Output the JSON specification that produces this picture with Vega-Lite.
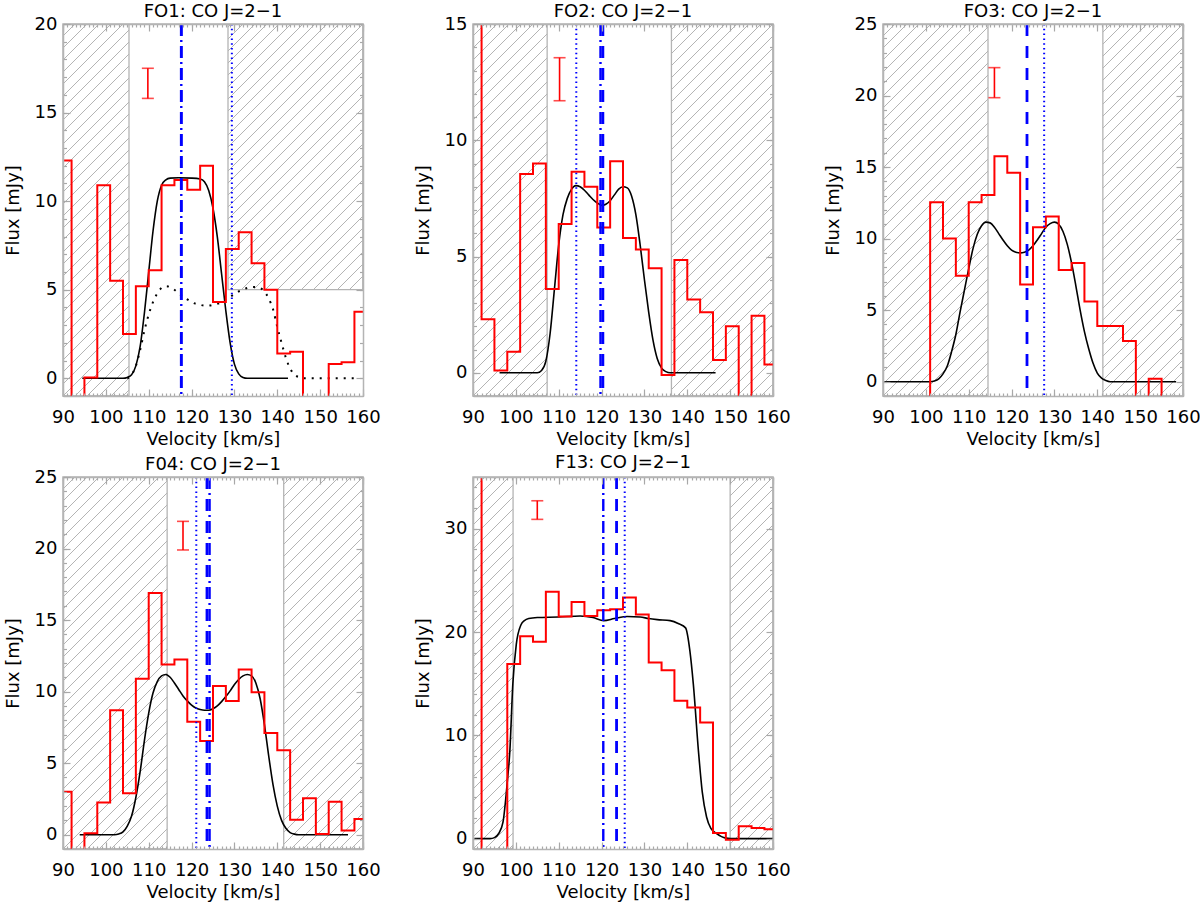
{
"$schema": "https://vega.github.io/schema/vega-lite/v6.json",
"padding": {"left": 3, "top": 2, "right": 5, "bottom": 5},
"background": "white",
"config": {
  "font": "DejaVu Sans",
  "view": {"stroke": "#b4b4b4", "strokeWidth": 1.5},
  "title": {"font": "DejaVu Sans", "fontSize": 18, "fontWeight": "normal", "color": "black", "offset": -6, "anchor": "middle", "frame": "group"},
  "axis": {"domainColor": "#b4b4b4", "domainWidth": 1.5, "tickColor": "#a8a8a8", "tickWidth": 1.2, "labelFont": "DejaVu Sans", "labelFontSize": 18, "labelColor": "black", "titleFont": "DejaVu Sans", "titleFontSize": 18, "titleFontWeight": "normal", "titleColor": "black", "labelFlush": false, "labelOverlap": false, "grid": false},
  "axisX": {"titleY": 43, "titleBaseline": "middle"},
  "axisY": {"titleX": -50, "titleBaseline": "middle"}
},
"datasets": {
  "hatch": [
    {"a":3.2,"b":90.0},{"a":6.0,"b":92.8},{"a":8.8,"b":95.6},{"a":11.6,"b":98.4},{"a":14.4,"b":101.2},{"a":17.2,"b":104.0},{"a":20.0,"b":106.8},{"a":22.8,"b":109.6},{"a":25.6,"b":112.4},{"a":28.4,"b":115.2},
    {"a":31.2,"b":118.0},{"a":34.0,"b":120.8},{"a":36.8,"b":123.6},{"a":39.6,"b":126.4},{"a":42.4,"b":129.2},{"a":45.2,"b":132.0},{"a":48.0,"b":134.8},{"a":50.8,"b":137.6},{"a":53.6,"b":140.4},{"a":56.4,"b":143.2},
    {"a":59.2,"b":146.0},{"a":62.0,"b":148.8},{"a":64.8,"b":151.6},{"a":67.6,"b":154.4},{"a":70.4,"b":157.2},{"a":73.2,"b":160.0},{"a":76.0,"b":162.8},{"a":78.8,"b":165.6},{"a":81.6,"b":168.4},{"a":84.4,"b":171.2},
    {"a":87.2,"b":174.0},{"a":90.0,"b":176.8},{"a":92.8,"b":179.6},{"a":95.6,"b":182.4},{"a":98.4,"b":185.2},{"a":101.2,"b":188.0},{"a":104.0,"b":190.8},{"a":106.8,"b":193.6},{"a":109.6,"b":196.4},{"a":112.4,"b":199.2},
    {"a":115.2,"b":202.0},{"a":118.0,"b":204.8},{"a":120.8,"b":207.6},{"a":123.6,"b":210.4},{"a":126.4,"b":213.2},{"a":129.2,"b":216.0},{"a":132.0,"b":218.8},{"a":134.8,"b":221.6},{"a":137.6,"b":224.4},{"a":140.4,"b":227.2},
    {"a":143.2,"b":230.0},{"a":146.0,"b":232.8},{"a":148.8,"b":235.6},{"a":151.6,"b":238.4},{"a":154.4,"b":241.2},{"a":157.2,"b":244.0},{"a":160.0,"b":246.8}
  ],
  "mask": [
    {"p":"F01","x1":105.4,"x2":128.5,"y1":-1,"y2":20},
    {"p":"F01","x1":128.5,"x2":160,"y1":-1,"y2":5},
    {"p":"F02","x1":107.3,"x2":136.3,"y1":-1,"y2":15},
    {"p":"F03","x1":114.5,"x2":141.3,"y1":-1,"y2":25},
    {"p":"F04","x1":114.3,"x2":141.5,"y1":-1,"y2":25},
    {"p":"F13","x1":99.35,"x2":150,"y1":-1,"y2":35}
  ],
  "hreg": [
    {"p":"F01","x1":90,"x2":105.4,"y1":-1,"y2":20},
    {"p":"F01","x1":128.5,"x2":160,"y1":5,"y2":20},
    {"p":"F02","x1":90,"x2":107.3,"y1":-1,"y2":15},
    {"p":"F02","x1":136.3,"x2":160,"y1":-1,"y2":15},
    {"p":"F03","x1":90,"x2":114.5,"y1":-1,"y2":25},
    {"p":"F03","x1":141.3,"x2":160,"y1":-1,"y2":25},
    {"p":"F04","x1":90,"x2":114.3,"y1":-1,"y2":25},
    {"p":"F04","x1":141.5,"x2":160,"y1":-1,"y2":25},
    {"p":"F13","x1":90,"x2":99.35,"y1":-1,"y2":35},
    {"p":"F13","x1":150,"x2":160,"y1":-1,"y2":35}
  ],
  "steps": [
    {"p":"F01","v":89,"f":12.3},{"p":"F01","v":92,"f":-3},{"p":"F01","v":95,"f":0.05},{"p":"F01","v":98,"f":10.9},{"p":"F01","v":101,"f":5.5},{"p":"F01","v":104,"f":2.5},{"p":"F01","v":107,"f":5.2},{"p":"F01","v":110,"f":6.1},{"p":"F01","v":113,"f":10.9},{"p":"F01","v":116,"f":11.2},{"p":"F01","v":119,"f":10.65},{"p":"F01","v":122,"f":12.0},{"p":"F01","v":125,"f":4.3},{"p":"F01","v":128,"f":7.3},{"p":"F01","v":131,"f":8.25},{"p":"F01","v":134,"f":6.5},{"p":"F01","v":137,"f":5.0},{"p":"F01","v":140,"f":1.4},{"p":"F01","v":143,"f":1.5},{"p":"F01","v":146,"f":-3},{"p":"F01","v":149,"f":-3},{"p":"F01","v":152,"f":0.8},{"p":"F01","v":155,"f":0.9},{"p":"F01","v":158,"f":3.75},{"p":"F01","v":161,"f":3.75},
    {"p":"F02","v":89,"f":17},{"p":"F02","v":92,"f":2.3},{"p":"F02","v":95,"f":0.1},{"p":"F02","v":98,"f":0.9},{"p":"F02","v":101,"f":8.55},{"p":"F02","v":104,"f":9.0},{"p":"F02","v":107,"f":3.6},{"p":"F02","v":110,"f":6.4},{"p":"F02","v":113,"f":8.65},{"p":"F02","v":116,"f":8.0},{"p":"F02","v":119,"f":6.25},{"p":"F02","v":122,"f":9.1},{"p":"F02","v":125,"f":5.8},{"p":"F02","v":128,"f":5.3},{"p":"F02","v":131,"f":4.5},{"p":"F02","v":134,"f":-0.1},{"p":"F02","v":137,"f":4.85},{"p":"F02","v":140,"f":3.15},{"p":"F02","v":143,"f":2.6},{"p":"F02","v":146,"f":0.55},{"p":"F02","v":149,"f":2.0},{"p":"F02","v":152,"f":-3},{"p":"F02","v":155,"f":2.45},{"p":"F02","v":158,"f":0.35},{"p":"F02","v":161,"f":0.35},
    {"p":"F03","v":98,"f":-3},{"p":"F03","v":101,"f":12.55},{"p":"F03","v":104,"f":10.0},{"p":"F03","v":107,"f":7.4},{"p":"F03","v":110,"f":12.55},{"p":"F03","v":113,"f":13.05},{"p":"F03","v":116,"f":15.75},{"p":"F03","v":119,"f":14.6},{"p":"F03","v":122,"f":6.8},{"p":"F03","v":125,"f":10.8},{"p":"F03","v":128,"f":11.55},{"p":"F03","v":131,"f":7.8},{"p":"F03","v":134,"f":8.3},{"p":"F03","v":137,"f":5.6},{"p":"F03","v":140,"f":3.9},{"p":"F03","v":143,"f":3.9},{"p":"F03","v":146,"f":2.85},{"p":"F03","v":149,"f":-3},{"p":"F03","v":152,"f":0.2},{"p":"F03","v":155,"f":-3},{"p":"F03","v":158,"f":-3},
    {"p":"F04","v":89,"f":3.0},{"p":"F04","v":92,"f":-3},{"p":"F04","v":95,"f":0.1},{"p":"F04","v":98,"f":2.25},{"p":"F04","v":101,"f":8.7},{"p":"F04","v":104,"f":2.9},{"p":"F04","v":107,"f":10.9},{"p":"F04","v":110,"f":16.9},{"p":"F04","v":113,"f":11.9},{"p":"F04","v":116,"f":12.25},{"p":"F04","v":119,"f":7.9},{"p":"F04","v":122,"f":6.55},{"p":"F04","v":125,"f":10.4},{"p":"F04","v":128,"f":9.35},{"p":"F04","v":131,"f":11.55},{"p":"F04","v":134,"f":9.95},{"p":"F04","v":137,"f":7.1},{"p":"F04","v":140,"f":5.9},{"p":"F04","v":143,"f":1.05},{"p":"F04","v":146,"f":2.55},{"p":"F04","v":149,"f":0.05},{"p":"F04","v":152,"f":2.3},{"p":"F04","v":155,"f":0.3},{"p":"F04","v":158,"f":1.1},{"p":"F04","v":161,"f":1.1},
    {"p":"F13","v":89,"f":40},{"p":"F13","v":92,"f":-3},{"p":"F13","v":95,"f":-3},{"p":"F13","v":98,"f":16.9},{"p":"F13","v":101,"f":19.6},{"p":"F13","v":104,"f":19.05},{"p":"F13","v":107,"f":23.9},{"p":"F13","v":110,"f":21.5},{"p":"F13","v":113,"f":22.9},{"p":"F13","v":116,"f":21.55},{"p":"F13","v":119,"f":22.1},{"p":"F13","v":122,"f":22.2},{"p":"F13","v":125,"f":23.35},{"p":"F13","v":128,"f":21.7},{"p":"F13","v":131,"f":17.05},{"p":"F13","v":134,"f":16.3},{"p":"F13","v":137,"f":13.35},{"p":"F13","v":140,"f":12.7},{"p":"F13","v":143,"f":11.25},{"p":"F13","v":146,"f":0.55},{"p":"F13","v":149,"f":-0.1},{"p":"F13","v":152,"f":1.2},{"p":"F13","v":155,"f":1.03},{"p":"F13","v":158,"f":0.9},{"p":"F13","v":161,"f":0.9}
  ],
  "model": [
    {"p":"F01","c":"fit","v":94.5,"f":0},{"p":"F01","c":"fit","v":104,"f":0},{"p":"F01","c":"fit","v":105,"f":0.05},{"p":"F01","c":"fit","v":106,"f":0.2},{"p":"F01","c":"fit","v":107,"f":0.7},{"p":"F01","c":"fit","v":108,"f":1.8},{"p":"F01","c":"fit","v":109,"f":3.7},{"p":"F01","c":"fit","v":110,"f":6.0},{"p":"F01","c":"fit","v":111,"f":8.3},{"p":"F01","c":"fit","v":112,"f":10.0},{"p":"F01","c":"fit","v":113,"f":10.9},{"p":"F01","c":"fit","v":114,"f":11.2},{"p":"F01","c":"fit","v":115,"f":11.3},{"p":"F01","c":"fit","v":117,"f":11.32},{"p":"F01","c":"fit","v":120,"f":11.3},{"p":"F01","c":"fit","v":122,"f":11.25},{"p":"F01","c":"fit","v":123,"f":11.1},{"p":"F01","c":"fit","v":124,"f":10.6},{"p":"F01","c":"fit","v":125,"f":9.6},{"p":"F01","c":"fit","v":126,"f":8.0},{"p":"F01","c":"fit","v":127,"f":5.9},{"p":"F01","c":"fit","v":128,"f":3.8},{"p":"F01","c":"fit","v":129,"f":2.0},{"p":"F01","c":"fit","v":130,"f":0.8},{"p":"F01","c":"fit","v":131,"f":0.25},{"p":"F01","c":"fit","v":132,"f":0.05},{"p":"F01","c":"fit","v":133,"f":0},{"p":"F01","c":"fit","v":142.5,"f":0},
    {"p":"F01","c":"alt","v":105,"f":0},{"p":"F01","c":"alt","v":106,"f":0.2},{"p":"F01","c":"alt","v":107,"f":0.7},{"p":"F01","c":"alt","v":108,"f":1.6},{"p":"F01","c":"alt","v":109,"f":2.7},{"p":"F01","c":"alt","v":110,"f":3.6},{"p":"F01","c":"alt","v":111,"f":4.3},{"p":"F01","c":"alt","v":112,"f":4.8},{"p":"F01","c":"alt","v":113,"f":5.1},{"p":"F01","c":"alt","v":114,"f":5.2},{"p":"F01","c":"alt","v":115,"f":5.15},{"p":"F01","c":"alt","v":116,"f":5.0},{"p":"F01","c":"alt","v":117,"f":4.8},{"p":"F01","c":"alt","v":118,"f":4.6},{"p":"F01","c":"alt","v":119,"f":4.45},{"p":"F01","c":"alt","v":120,"f":4.3},{"p":"F01","c":"alt","v":121,"f":4.2},{"p":"F01","c":"alt","v":122,"f":4.15},{"p":"F01","c":"alt","v":123,"f":4.1},{"p":"F01","c":"alt","v":124,"f":4.1},{"p":"F01","c":"alt","v":125,"f":4.15},{"p":"F01","c":"alt","v":126,"f":4.2},{"p":"F01","c":"alt","v":127,"f":4.3},{"p":"F01","c":"alt","v":128,"f":4.45},{"p":"F01","c":"alt","v":129,"f":4.6},{"p":"F01","c":"alt","v":130,"f":4.75},{"p":"F01","c":"alt","v":131,"f":4.9},{"p":"F01","c":"alt","v":132,"f":5.0},{"p":"F01","c":"alt","v":133,"f":5.1},{"p":"F01","c":"alt","v":134,"f":5.15},{"p":"F01","c":"alt","v":135,"f":5.15},{"p":"F01","c":"alt","v":136,"f":5.1},{"p":"F01","c":"alt","v":137,"f":4.9},{"p":"F01","c":"alt","v":138,"f":4.5},{"p":"F01","c":"alt","v":139,"f":3.9},{"p":"F01","c":"alt","v":140,"f":2.9},{"p":"F01","c":"alt","v":141,"f":2.0},{"p":"F01","c":"alt","v":142,"f":1.16},{"p":"F01","c":"alt","v":143,"f":0.55},{"p":"F01","c":"alt","v":144,"f":0.2},{"p":"F01","c":"alt","v":145,"f":0.07},{"p":"F01","c":"alt","v":146,"f":0},{"p":"F01","c":"alt","v":158,"f":0},
    {"p":"F02","c":"fit","v":96.2,"f":0},{"p":"F02","c":"fit","v":105,"f":0},{"p":"F02","c":"fit","v":106,"f":0.1},{"p":"F02","c":"fit","v":107,"f":0.5},{"p":"F02","c":"fit","v":108,"f":1.7},{"p":"F02","c":"fit","v":109,"f":3.6},{"p":"F02","c":"fit","v":110,"f":5.5},{"p":"F02","c":"fit","v":111,"f":6.8},{"p":"F02","c":"fit","v":112,"f":7.5},{"p":"F02","c":"fit","v":113,"f":7.9},{"p":"F02","c":"fit","v":114,"f":8.05},{"p":"F02","c":"fit","v":115,"f":8.0},{"p":"F02","c":"fit","v":116,"f":7.85},{"p":"F02","c":"fit","v":117,"f":7.65},{"p":"F02","c":"fit","v":118,"f":7.45},{"p":"F02","c":"fit","v":119,"f":7.3},{"p":"F02","c":"fit","v":120,"f":7.2},{"p":"F02","c":"fit","v":121,"f":7.25},{"p":"F02","c":"fit","v":122,"f":7.4},{"p":"F02","c":"fit","v":123,"f":7.65},{"p":"F02","c":"fit","v":124,"f":7.9},{"p":"F02","c":"fit","v":125,"f":8.0},{"p":"F02","c":"fit","v":126,"f":7.95},{"p":"F02","c":"fit","v":127,"f":7.6},{"p":"F02","c":"fit","v":128,"f":6.8},{"p":"F02","c":"fit","v":129,"f":5.5},{"p":"F02","c":"fit","v":130,"f":4.0},{"p":"F02","c":"fit","v":131,"f":2.6},{"p":"F02","c":"fit","v":132,"f":1.4},{"p":"F02","c":"fit","v":133,"f":0.6},{"p":"F02","c":"fit","v":134,"f":0.2},{"p":"F02","c":"fit","v":135,"f":0.05},{"p":"F02","c":"fit","v":136,"f":0},{"p":"F02","c":"fit","v":146.6,"f":0},
    {"p":"F03","c":"fit","v":90.3,"f":0},{"p":"F03","c":"fit","v":101,"f":0},{"p":"F03","c":"fit","v":102,"f":0.05},{"p":"F03","c":"fit","v":103,"f":0.2},{"p":"F03","c":"fit","v":104,"f":0.55},{"p":"F03","c":"fit","v":105,"f":1.1},{"p":"F03","c":"fit","v":106,"f":2.1},{"p":"F03","c":"fit","v":107,"f":3.3},{"p":"F03","c":"fit","v":108,"f":4.9},{"p":"F03","c":"fit","v":109,"f":6.4},{"p":"F03","c":"fit","v":110,"f":7.9},{"p":"F03","c":"fit","v":111,"f":9.3},{"p":"F03","c":"fit","v":112,"f":10.3},{"p":"F03","c":"fit","v":113,"f":10.9},{"p":"F03","c":"fit","v":114,"f":11.15},{"p":"F03","c":"fit","v":115,"f":11.1},{"p":"F03","c":"fit","v":116,"f":10.8},{"p":"F03","c":"fit","v":117,"f":10.35},{"p":"F03","c":"fit","v":118,"f":9.9},{"p":"F03","c":"fit","v":119,"f":9.5},{"p":"F03","c":"fit","v":120,"f":9.2},{"p":"F03","c":"fit","v":121,"f":9.05},{"p":"F03","c":"fit","v":122,"f":9.0},{"p":"F03","c":"fit","v":123,"f":9.05},{"p":"F03","c":"fit","v":124,"f":9.2},{"p":"F03","c":"fit","v":125,"f":9.5},{"p":"F03","c":"fit","v":126,"f":9.9},{"p":"F03","c":"fit","v":127,"f":10.35},{"p":"F03","c":"fit","v":128,"f":10.8},{"p":"F03","c":"fit","v":129,"f":11.05},{"p":"F03","c":"fit","v":130,"f":11.15},{"p":"F03","c":"fit","v":131,"f":11.0},{"p":"F03","c":"fit","v":132,"f":10.5},{"p":"F03","c":"fit","v":133,"f":9.6},{"p":"F03","c":"fit","v":134,"f":8.3},{"p":"F03","c":"fit","v":135,"f":6.7},{"p":"F03","c":"fit","v":136,"f":5.0},{"p":"F03","c":"fit","v":137,"f":3.5},{"p":"F03","c":"fit","v":138,"f":2.3},{"p":"F03","c":"fit","v":139,"f":1.3},{"p":"F03","c":"fit","v":140,"f":0.6},{"p":"F03","c":"fit","v":141,"f":0.25},{"p":"F03","c":"fit","v":142,"f":0.08},{"p":"F03","c":"fit","v":143,"f":0},{"p":"F03","c":"fit","v":158.4,"f":0},
    {"p":"F04","c":"fit","v":93.9,"f":0},{"p":"F04","c":"fit","v":102,"f":0},{"p":"F04","c":"fit","v":103,"f":0.05},{"p":"F04","c":"fit","v":104,"f":0.2},{"p":"F04","c":"fit","v":105,"f":0.6},{"p":"F04","c":"fit","v":106,"f":1.3},{"p":"F04","c":"fit","v":107,"f":2.6},{"p":"F04","c":"fit","v":108,"f":4.4},{"p":"F04","c":"fit","v":109,"f":6.6},{"p":"F04","c":"fit","v":110,"f":8.5},{"p":"F04","c":"fit","v":111,"f":9.9},{"p":"F04","c":"fit","v":112,"f":10.7},{"p":"F04","c":"fit","v":113,"f":11.1},{"p":"F04","c":"fit","v":114,"f":11.2},{"p":"F04","c":"fit","v":115,"f":11.0},{"p":"F04","c":"fit","v":116,"f":10.6},{"p":"F04","c":"fit","v":117,"f":10.15},{"p":"F04","c":"fit","v":118,"f":9.7},{"p":"F04","c":"fit","v":119,"f":9.35},{"p":"F04","c":"fit","v":120,"f":9.05},{"p":"F04","c":"fit","v":121,"f":8.85},{"p":"F04","c":"fit","v":122,"f":8.75},{"p":"F04","c":"fit","v":123,"f":8.7},{"p":"F04","c":"fit","v":124,"f":8.7},{"p":"F04","c":"fit","v":125,"f":8.8},{"p":"F04","c":"fit","v":126,"f":9.0},{"p":"F04","c":"fit","v":127,"f":9.3},{"p":"F04","c":"fit","v":128,"f":9.65},{"p":"F04","c":"fit","v":129,"f":10.05},{"p":"F04","c":"fit","v":130,"f":10.5},{"p":"F04","c":"fit","v":131,"f":10.85},{"p":"F04","c":"fit","v":132,"f":11.1},{"p":"F04","c":"fit","v":133,"f":11.2},{"p":"F04","c":"fit","v":134,"f":11.1},{"p":"F04","c":"fit","v":135,"f":10.6},{"p":"F04","c":"fit","v":136,"f":9.5},{"p":"F04","c":"fit","v":137,"f":7.7},{"p":"F04","c":"fit","v":138,"f":5.5},{"p":"F04","c":"fit","v":139,"f":3.5},{"p":"F04","c":"fit","v":140,"f":2.0},{"p":"F04","c":"fit","v":141,"f":1.0},{"p":"F04","c":"fit","v":142,"f":0.45},{"p":"F04","c":"fit","v":143,"f":0.15},{"p":"F04","c":"fit","v":144,"f":0.04},{"p":"F04","c":"fit","v":145,"f":0},{"p":"F04","c":"fit","v":156.5,"f":0},
    {"p":"F13","c":"fit","v":90.3,"f":0},{"p":"F13","c":"fit","v":94,"f":0},{"p":"F13","c":"fit","v":95,"f":0.1},{"p":"F13","c":"fit","v":96,"f":0.5},{"p":"F13","c":"fit","v":97,"f":1.6},{"p":"F13","c":"fit","v":98,"f":5.5},{"p":"F13","c":"fit","v":98.6,"f":8.5},{"p":"F13","c":"fit","v":99.3,"f":15},{"p":"F13","c":"fit","v":100.1,"f":18.8},{"p":"F13","c":"fit","v":101.2,"f":20.7},{"p":"F13","c":"fit","v":102,"f":21.1},{"p":"F13","c":"fit","v":103,"f":21.3},{"p":"F13","c":"fit","v":105,"f":21.4},{"p":"F13","c":"fit","v":110,"f":21.45},{"p":"F13","c":"fit","v":115,"f":21.55},{"p":"F13","c":"fit","v":118,"f":21.4},{"p":"F13","c":"fit","v":120.5,"f":21.1},{"p":"F13","c":"fit","v":123,"f":21.3},{"p":"F13","c":"fit","v":126,"f":21.5},{"p":"F13","c":"fit","v":129,"f":21.45},{"p":"F13","c":"fit","v":131,"f":21.3},{"p":"F13","c":"fit","v":133,"f":21.2},{"p":"F13","c":"fit","v":136,"f":21.1},{"p":"F13","c":"fit","v":138,"f":20.8},{"p":"F13","c":"fit","v":139.6,"f":20.4},{"p":"F13","c":"fit","v":140.6,"f":18.2},{"p":"F13","c":"fit","v":141.4,"f":15.0},{"p":"F13","c":"fit","v":142.6,"f":8.5},{"p":"F13","c":"fit","v":143.5,"f":4.5},{"p":"F13","c":"fit","v":144.5,"f":2.1},{"p":"F13","c":"fit","v":145.5,"f":1.0},{"p":"F13","c":"fit","v":147,"f":0.45},{"p":"F13","c":"fit","v":148,"f":0.2},{"p":"F13","c":"fit","v":149,"f":0.05},{"p":"F13","c":"fit","v":150,"f":0},{"p":"F13","c":"fit","v":159.9,"f":0}
  ],
  "vl": [
    {"p":"F01","v":117.6,"k":"dashed"},{"p":"F01","v":117.6,"k":"dashdot"},{"p":"F01","v":129.4,"k":"dotted"},
    {"p":"F02","v":114.1,"k":"dotted"},{"p":"F02","v":119.75,"k":"dashdot"},{"p":"F02","v":120.3,"k":"dashed"},
    {"p":"F03","v":123.6,"k":"dashed"},{"p":"F03","v":127.6,"k":"dotted"},
    {"p":"F04","v":121.1,"k":"dotted"},{"p":"F04","v":123.6,"k":"dashed"},{"p":"F04","v":124.2,"k":"dashdot"},
    {"p":"F13","v":120.4,"k":"dashdot"},{"p":"F13","v":123.5,"k":"dashed"},{"p":"F13","v":125.4,"k":"dotted"}
  ],
  "err": [
    {"p":"F01","v":109.8,"lo":15.8,"hi":17.5},
    {"p":"F02","v":110.2,"lo":11.7,"hi":13.55},
    {"p":"F03","v":116.0,"lo":19.85,"hi":21.95},
    {"p":"F04","v":118.0,"lo":19.9,"hi":21.9},
    {"p":"F13","v":105.0,"lo":30.9,"hi":32.7}
  ]
},
"columns": 3,
"spacing": {"row": 81, "column": 110},
"bounds": "flush",
"concat": [
{
 "title": "FO1: CO J=2−1",
 "width": 300, "height": 372,
 "resolve": {"axis": {"x": "independent", "y": "independent"}},
 "layer": [
  {"data": {"name": "hatch"}, "mark": {"type": "rule", "color": "#b4b4b4", "strokeWidth": 1, "clip": true},
   "encoding": {"x": {"field": "a", "type": "quantitative", "scale": {"domain": [90,160], "nice": false, "zero": false}, "axis": null}, "x2": {"field": "b"},
     "y": {"datum": -1, "type": "quantitative", "scale": {"domain": [-1,20], "nice": false, "zero": false}, "axis": null}, "y2": {"datum": 20}}},
  {"data": {"name": "mask"}, "transform": [{"filter": "datum.p === 'F01'"}], "mark": {"type": "rect", "fill": "white", "clip": true},
   "encoding": {
     "x": {"field": "x1", "type": "quantitative", "axis": {"zindex": 1, "orient": "bottom", "title": null, "labels": false, "domain": false, "offset": -3, "tickSize": 3, "values": [90,91,92,93,94,95,96,97,98,99,100,101,102,103,104,105,106,107,108,109,110,111,112,113,114,115,116,117,118,119,120,121,122,123,124,125,126,127,128,129,130,131,132,133,134,135,136,137,138,139,140,141,142,143,144,145,146,147,148,149,150,151,152,153,154,155,156,157,158,159,160]}}, "x2": {"field": "x2"},
     "y": {"field": "y1", "type": "quantitative", "axis": {"zindex": 1, "orient": "left", "title": null, "labels": false, "domain": false, "offset": -3.5, "tickSize": 3.5, "values": [0,1,2,3,4,5,6,7,8,9,10,11,12,13,14,15,16,17,18,19,20]}}, "y2": {"field": "y2"}}},
  {"data": {"name": "hreg"}, "transform": [{"filter": "datum.p === 'F01'"}], "mark": {"type": "rect", "fillOpacity": 0, "stroke": "#b4b4b4", "strokeWidth": 1.3, "clip": true},
   "encoding": {
     "x": {"field": "x1", "type": "quantitative", "axis": {"zindex": 1, "orient": "top", "title": null, "labels": false, "domain": false, "offset": -7, "tickSize": 7, "values": [90,100,110,120,130,140,150,160]}}, "x2": {"field": "x2"},
     "y": {"field": "y1", "type": "quantitative", "axis": {"zindex": 1, "orient": "right", "title": null, "labels": false, "domain": false, "offset": -7, "tickSize": 7, "values": [0,5,10,15,20]}}, "y2": {"field": "y2"}}},
  {"data": {"name": "model"}, "transform": [{"filter": "datum.p === 'F01' && datum.c === 'fit'"}], "mark": {"type": "line", "color": "black", "strokeWidth": 1.6, "interpolate": "monotone", "clip": true},
   "encoding": {
     "x": {"field": "v", "type": "quantitative", "axis": {"zindex": 1, "orient": "top", "title": null, "labels": false, "domain": false, "offset": -3, "tickSize": 3, "values": [90,91,92,93,94,95,96,97,98,99,100,101,102,103,104,105,106,107,108,109,110,111,112,113,114,115,116,117,118,119,120,121,122,123,124,125,126,127,128,129,130,131,132,133,134,135,136,137,138,139,140,141,142,143,144,145,146,147,148,149,150,151,152,153,154,155,156,157,158,159,160]}},
     "y": {"field": "f", "type": "quantitative", "axis": {"zindex": 1, "orient": "right", "title": null, "labels": false, "domain": false, "offset": -3.5, "tickSize": 3.5, "values": [0,1,2,3,4,5,6,7,8,9,10,11,12,13,14,15,16,17,18,19,20]}}}},
  {"data": {"name": "model"}, "transform": [{"filter": "datum.p === 'F01' && datum.c === 'alt'"}], "mark": {"type": "line", "color": "black", "strokeWidth": 2, "strokeDash": [2,6], "interpolate": "monotone", "clip": true},
   "encoding": {"x": {"field": "v", "type": "quantitative", "axis": null}, "y": {"field": "f", "type": "quantitative", "axis": null}}},
  {"data": {"name": "steps"}, "transform": [{"filter": "datum.p === 'F01'"}], "mark": {"type": "line", "color": "#ff0000", "strokeWidth": 2, "interpolate": "step-after", "clip": true},
   "encoding": {
     "x": {"field": "v", "type": "quantitative", "axis": {"zindex": 1, "orient": "bottom", "title": "Velocity [km/s]", "ticks": false, "tickSize": 0, "labelPadding": 12, "domain": true, "values": [90,100,110,120,130,140,150,160]}},
     "y": {"field": "f", "type": "quantitative", "axis": {"zindex": 1, "orient": "left", "title": "Flux [mJy]", "ticks": false, "tickSize": 0, "labelPadding": 6, "domain": true, "values": [0,5,10,15,20]}}}},
  {"data": {"name": "vl"}, "transform": [{"filter": "datum.p === 'F01'"}], "mark": {"type": "rule", "color": "#0000ff", "clip": true},
   "encoding": {"x": {"field": "v", "type": "quantitative", "axis": null},
     "strokeDash": {"field": "k", "type": "nominal", "scale": {"domain": ["dashed","dashdot","dotted"], "range": [[12,10],[12,4,2,4],[1.5,3.3]]}, "legend": null},
     "strokeWidth": {"field": "k", "type": "ordinal", "scale": {"domain": ["dashed","dashdot","dotted"], "range": [2.8,2,1.6]}, "legend": null}}},
  {"data": {"name": "err"}, "transform": [{"filter": "datum.p === 'F01'"}], "mark": {"type": "rule", "color": "#ff0000", "strokeWidth": 1.6},
   "encoding": {
     "x": {"field": "v", "type": "quantitative", "axis": {"zindex": 1, "orient": "bottom", "title": null, "labels": false, "domain": false, "offset": -7, "tickSize": 7, "values": [90,100,110,120,130,140,150,160]}},
     "y": {"field": "lo", "type": "quantitative", "axis": {"zindex": 1, "orient": "left", "title": null, "labels": false, "domain": false, "offset": -7, "tickSize": 7, "values": [0,5,10,15,20]}}, "y2": {"field": "hi"}}},
  {"data": {"name": "err"}, "transform": [{"filter": "datum.p === 'F01'"}], "mark": {"type": "tick", "color": "#ff0000", "orient": "horizontal", "size": 12, "thickness": 1.6},
   "encoding": {
     "x": {"field": "v", "type": "quantitative", "axis": {"zindex": 1, "orient": "top", "title": null, "labels": false, "ticks": false, "domain": true, "values": [90]}},
     "y": {"field": "lo", "type": "quantitative", "axis": {"zindex": 1, "orient": "right", "title": null, "labels": false, "ticks": false, "domain": true, "values": [0]}}}},
  {"data": {"name": "err"}, "transform": [{"filter": "datum.p === 'F01'"}], "mark": {"type": "tick", "color": "#ff0000", "orient": "horizontal", "size": 12, "thickness": 1.6},
   "encoding": {"x": {"field": "v", "type": "quantitative", "axis": null}, "y": {"field": "hi", "type": "quantitative", "axis": null}}}
 ]
},
{
 "title": "FO2: CO J=2−1",
 "width": 300, "height": 372,
 "resolve": {"axis": {"x": "independent", "y": "independent"}},
 "layer": [
  {"data": {"name": "hatch"}, "mark": {"type": "rule", "color": "#b4b4b4", "strokeWidth": 1, "clip": true},
   "encoding": {"x": {"field": "a", "type": "quantitative", "scale": {"domain": [90,160], "nice": false, "zero": false}, "axis": null}, "x2": {"field": "b"},
     "y": {"datum": -1, "type": "quantitative", "scale": {"domain": [-1,15], "nice": false, "zero": false}, "axis": null}, "y2": {"datum": 15}}},
  {"data": {"name": "mask"}, "transform": [{"filter": "datum.p === 'F02'"}], "mark": {"type": "rect", "fill": "white", "clip": true},
   "encoding": {
     "x": {"field": "x1", "type": "quantitative", "axis": {"zindex": 1, "orient": "bottom", "title": null, "labels": false, "domain": false, "offset": -3, "tickSize": 3, "values": [90,91,92,93,94,95,96,97,98,99,100,101,102,103,104,105,106,107,108,109,110,111,112,113,114,115,116,117,118,119,120,121,122,123,124,125,126,127,128,129,130,131,132,133,134,135,136,137,138,139,140,141,142,143,144,145,146,147,148,149,150,151,152,153,154,155,156,157,158,159,160]}}, "x2": {"field": "x2"},
     "y": {"field": "y1", "type": "quantitative", "axis": {"zindex": 1, "orient": "left", "title": null, "labels": false, "domain": false, "offset": -3.5, "tickSize": 3.5, "values": [0,1,2,3,4,5,6,7,8,9,10,11,12,13,14,15]}}, "y2": {"field": "y2"}}},
  {"data": {"name": "hreg"}, "transform": [{"filter": "datum.p === 'F02'"}], "mark": {"type": "rect", "fillOpacity": 0, "stroke": "#b4b4b4", "strokeWidth": 1.3, "clip": true},
   "encoding": {
     "x": {"field": "x1", "type": "quantitative", "axis": {"zindex": 1, "orient": "top", "title": null, "labels": false, "domain": false, "offset": -7, "tickSize": 7, "values": [90,100,110,120,130,140,150,160]}}, "x2": {"field": "x2"},
     "y": {"field": "y1", "type": "quantitative", "axis": {"zindex": 1, "orient": "right", "title": null, "labels": false, "domain": false, "offset": -7, "tickSize": 7, "values": [0,5,10,15]}}, "y2": {"field": "y2"}}},
  {"data": {"name": "model"}, "transform": [{"filter": "datum.p === 'F02' && datum.c === 'fit'"}], "mark": {"type": "line", "color": "black", "strokeWidth": 1.6, "interpolate": "monotone", "clip": true},
   "encoding": {
     "x": {"field": "v", "type": "quantitative", "axis": {"zindex": 1, "orient": "top", "title": null, "labels": false, "domain": false, "offset": -3, "tickSize": 3, "values": [90,91,92,93,94,95,96,97,98,99,100,101,102,103,104,105,106,107,108,109,110,111,112,113,114,115,116,117,118,119,120,121,122,123,124,125,126,127,128,129,130,131,132,133,134,135,136,137,138,139,140,141,142,143,144,145,146,147,148,149,150,151,152,153,154,155,156,157,158,159,160]}},
     "y": {"field": "f", "type": "quantitative", "axis": {"zindex": 1, "orient": "right", "title": null, "labels": false, "domain": false, "offset": -3.5, "tickSize": 3.5, "values": [0,1,2,3,4,5,6,7,8,9,10,11,12,13,14,15]}}}},
  {"data": {"name": "steps"}, "transform": [{"filter": "datum.p === 'F02'"}], "mark": {"type": "line", "color": "#ff0000", "strokeWidth": 2, "interpolate": "step-after", "clip": true},
   "encoding": {
     "x": {"field": "v", "type": "quantitative", "axis": {"zindex": 1, "orient": "bottom", "title": "Velocity [km/s]", "ticks": false, "tickSize": 0, "labelPadding": 12, "domain": true, "values": [90,100,110,120,130,140,150,160]}},
     "y": {"field": "f", "type": "quantitative", "axis": {"zindex": 1, "orient": "left", "title": "Flux [mJy]", "ticks": false, "tickSize": 0, "labelPadding": 6, "domain": true, "values": [0,5,10,15]}}}},
  {"data": {"name": "vl"}, "transform": [{"filter": "datum.p === 'F02'"}], "mark": {"type": "rule", "color": "#0000ff", "clip": true},
   "encoding": {"x": {"field": "v", "type": "quantitative", "axis": null},
     "strokeDash": {"field": "k", "type": "nominal", "scale": {"domain": ["dashed","dashdot","dotted"], "range": [[12,10],[12,4,2,4],[1.5,3.3]]}, "legend": null},
     "strokeWidth": {"field": "k", "type": "ordinal", "scale": {"domain": ["dashed","dashdot","dotted"], "range": [2.8,2,1.6]}, "legend": null}}},
  {"data": {"name": "err"}, "transform": [{"filter": "datum.p === 'F02'"}], "mark": {"type": "rule", "color": "#ff0000", "strokeWidth": 1.6},
   "encoding": {
     "x": {"field": "v", "type": "quantitative", "axis": {"zindex": 1, "orient": "bottom", "title": null, "labels": false, "domain": false, "offset": -7, "tickSize": 7, "values": [90,100,110,120,130,140,150,160]}},
     "y": {"field": "lo", "type": "quantitative", "axis": {"zindex": 1, "orient": "left", "title": null, "labels": false, "domain": false, "offset": -7, "tickSize": 7, "values": [0,5,10,15]}}, "y2": {"field": "hi"}}},
  {"data": {"name": "err"}, "transform": [{"filter": "datum.p === 'F02'"}], "mark": {"type": "tick", "color": "#ff0000", "orient": "horizontal", "size": 12, "thickness": 1.6},
   "encoding": {
     "x": {"field": "v", "type": "quantitative", "axis": {"zindex": 1, "orient": "top", "title": null, "labels": false, "ticks": false, "domain": true, "values": [90]}},
     "y": {"field": "lo", "type": "quantitative", "axis": {"zindex": 1, "orient": "right", "title": null, "labels": false, "ticks": false, "domain": true, "values": [0]}}}},
  {"data": {"name": "err"}, "transform": [{"filter": "datum.p === 'F02'"}], "mark": {"type": "tick", "color": "#ff0000", "orient": "horizontal", "size": 12, "thickness": 1.6},
   "encoding": {"x": {"field": "v", "type": "quantitative", "axis": null}, "y": {"field": "hi", "type": "quantitative", "axis": null}}}
 ]
},
{
 "title": "FO3: CO J=2−1",
 "width": 300, "height": 372,
 "resolve": {"axis": {"x": "independent", "y": "independent"}},
 "layer": [
  {"data": {"name": "hatch"}, "mark": {"type": "rule", "color": "#b4b4b4", "strokeWidth": 1, "clip": true},
   "encoding": {"x": {"field": "a", "type": "quantitative", "scale": {"domain": [90,160], "nice": false, "zero": false}, "axis": null}, "x2": {"field": "b"},
     "y": {"datum": -1, "type": "quantitative", "scale": {"domain": [-1,25], "nice": false, "zero": false}, "axis": null}, "y2": {"datum": 25}}},
  {"data": {"name": "mask"}, "transform": [{"filter": "datum.p === 'F03'"}], "mark": {"type": "rect", "fill": "white", "clip": true},
   "encoding": {
     "x": {"field": "x1", "type": "quantitative", "axis": {"zindex": 1, "orient": "bottom", "title": null, "labels": false, "domain": false, "offset": -3, "tickSize": 3, "values": [90,91,92,93,94,95,96,97,98,99,100,101,102,103,104,105,106,107,108,109,110,111,112,113,114,115,116,117,118,119,120,121,122,123,124,125,126,127,128,129,130,131,132,133,134,135,136,137,138,139,140,141,142,143,144,145,146,147,148,149,150,151,152,153,154,155,156,157,158,159,160]}}, "x2": {"field": "x2"},
     "y": {"field": "y1", "type": "quantitative", "axis": {"zindex": 1, "orient": "left", "title": null, "labels": false, "domain": false, "offset": -3.5, "tickSize": 3.5, "values": [0,1,2,3,4,5,6,7,8,9,10,11,12,13,14,15,16,17,18,19,20,21,22,23,24,25]}}, "y2": {"field": "y2"}}},
  {"data": {"name": "hreg"}, "transform": [{"filter": "datum.p === 'F03'"}], "mark": {"type": "rect", "fillOpacity": 0, "stroke": "#b4b4b4", "strokeWidth": 1.3, "clip": true},
   "encoding": {
     "x": {"field": "x1", "type": "quantitative", "axis": {"zindex": 1, "orient": "top", "title": null, "labels": false, "domain": false, "offset": -7, "tickSize": 7, "values": [90,100,110,120,130,140,150,160]}}, "x2": {"field": "x2"},
     "y": {"field": "y1", "type": "quantitative", "axis": {"zindex": 1, "orient": "right", "title": null, "labels": false, "domain": false, "offset": -7, "tickSize": 7, "values": [0,5,10,15,20,25]}}, "y2": {"field": "y2"}}},
  {"data": {"name": "model"}, "transform": [{"filter": "datum.p === 'F03' && datum.c === 'fit'"}], "mark": {"type": "line", "color": "black", "strokeWidth": 1.6, "interpolate": "monotone", "clip": true},
   "encoding": {
     "x": {"field": "v", "type": "quantitative", "axis": {"zindex": 1, "orient": "top", "title": null, "labels": false, "domain": false, "offset": -3, "tickSize": 3, "values": [90,91,92,93,94,95,96,97,98,99,100,101,102,103,104,105,106,107,108,109,110,111,112,113,114,115,116,117,118,119,120,121,122,123,124,125,126,127,128,129,130,131,132,133,134,135,136,137,138,139,140,141,142,143,144,145,146,147,148,149,150,151,152,153,154,155,156,157,158,159,160]}},
     "y": {"field": "f", "type": "quantitative", "axis": {"zindex": 1, "orient": "right", "title": null, "labels": false, "domain": false, "offset": -3.5, "tickSize": 3.5, "values": [0,1,2,3,4,5,6,7,8,9,10,11,12,13,14,15,16,17,18,19,20,21,22,23,24,25]}}}},
  {"data": {"name": "steps"}, "transform": [{"filter": "datum.p === 'F03'"}], "mark": {"type": "line", "color": "#ff0000", "strokeWidth": 2, "interpolate": "step-after", "clip": true},
   "encoding": {
     "x": {"field": "v", "type": "quantitative", "axis": {"zindex": 1, "orient": "bottom", "title": "Velocity [km/s]", "ticks": false, "tickSize": 0, "labelPadding": 12, "domain": true, "values": [90,100,110,120,130,140,150,160]}},
     "y": {"field": "f", "type": "quantitative", "axis": {"zindex": 1, "orient": "left", "title": "Flux [mJy]", "ticks": false, "tickSize": 0, "labelPadding": 6, "domain": true, "values": [0,5,10,15,20,25]}}}},
  {"data": {"name": "vl"}, "transform": [{"filter": "datum.p === 'F03'"}], "mark": {"type": "rule", "color": "#0000ff", "clip": true},
   "encoding": {"x": {"field": "v", "type": "quantitative", "axis": null},
     "strokeDash": {"field": "k", "type": "nominal", "scale": {"domain": ["dashed","dashdot","dotted"], "range": [[12,10],[12,4,2,4],[1.5,3.3]]}, "legend": null},
     "strokeWidth": {"field": "k", "type": "ordinal", "scale": {"domain": ["dashed","dashdot","dotted"], "range": [2.8,2,1.6]}, "legend": null}}},
  {"data": {"name": "err"}, "transform": [{"filter": "datum.p === 'F03'"}], "mark": {"type": "rule", "color": "#ff0000", "strokeWidth": 1.6},
   "encoding": {
     "x": {"field": "v", "type": "quantitative", "axis": {"zindex": 1, "orient": "bottom", "title": null, "labels": false, "domain": false, "offset": -7, "tickSize": 7, "values": [90,100,110,120,130,140,150,160]}},
     "y": {"field": "lo", "type": "quantitative", "axis": {"zindex": 1, "orient": "left", "title": null, "labels": false, "domain": false, "offset": -7, "tickSize": 7, "values": [0,5,10,15,20,25]}}, "y2": {"field": "hi"}}},
  {"data": {"name": "err"}, "transform": [{"filter": "datum.p === 'F03'"}], "mark": {"type": "tick", "color": "#ff0000", "orient": "horizontal", "size": 12, "thickness": 1.6},
   "encoding": {
     "x": {"field": "v", "type": "quantitative", "axis": {"zindex": 1, "orient": "top", "title": null, "labels": false, "ticks": false, "domain": true, "values": [90]}},
     "y": {"field": "lo", "type": "quantitative", "axis": {"zindex": 1, "orient": "right", "title": null, "labels": false, "ticks": false, "domain": true, "values": [0]}}}},
  {"data": {"name": "err"}, "transform": [{"filter": "datum.p === 'F03'"}], "mark": {"type": "tick", "color": "#ff0000", "orient": "horizontal", "size": 12, "thickness": 1.6},
   "encoding": {"x": {"field": "v", "type": "quantitative", "axis": null}, "y": {"field": "hi", "type": "quantitative", "axis": null}}}
 ]
},
{
 "title": "F04: CO J=2−1",
 "width": 300, "height": 372,
 "resolve": {"axis": {"x": "independent", "y": "independent"}},
 "layer": [
  {"data": {"name": "hatch"}, "mark": {"type": "rule", "color": "#b4b4b4", "strokeWidth": 1, "clip": true},
   "encoding": {"x": {"field": "a", "type": "quantitative", "scale": {"domain": [90,160], "nice": false, "zero": false}, "axis": null}, "x2": {"field": "b"},
     "y": {"datum": -1, "type": "quantitative", "scale": {"domain": [-1,25], "nice": false, "zero": false}, "axis": null}, "y2": {"datum": 25}}},
  {"data": {"name": "mask"}, "transform": [{"filter": "datum.p === 'F04'"}], "mark": {"type": "rect", "fill": "white", "clip": true},
   "encoding": {
     "x": {"field": "x1", "type": "quantitative", "axis": {"zindex": 1, "orient": "bottom", "title": null, "labels": false, "domain": false, "offset": -3, "tickSize": 3, "values": [90,91,92,93,94,95,96,97,98,99,100,101,102,103,104,105,106,107,108,109,110,111,112,113,114,115,116,117,118,119,120,121,122,123,124,125,126,127,128,129,130,131,132,133,134,135,136,137,138,139,140,141,142,143,144,145,146,147,148,149,150,151,152,153,154,155,156,157,158,159,160]}}, "x2": {"field": "x2"},
     "y": {"field": "y1", "type": "quantitative", "axis": {"zindex": 1, "orient": "left", "title": null, "labels": false, "domain": false, "offset": -3.5, "tickSize": 3.5, "values": [0,1,2,3,4,5,6,7,8,9,10,11,12,13,14,15,16,17,18,19,20,21,22,23,24,25]}}, "y2": {"field": "y2"}}},
  {"data": {"name": "hreg"}, "transform": [{"filter": "datum.p === 'F04'"}], "mark": {"type": "rect", "fillOpacity": 0, "stroke": "#b4b4b4", "strokeWidth": 1.3, "clip": true},
   "encoding": {
     "x": {"field": "x1", "type": "quantitative", "axis": {"zindex": 1, "orient": "top", "title": null, "labels": false, "domain": false, "offset": -7, "tickSize": 7, "values": [90,100,110,120,130,140,150,160]}}, "x2": {"field": "x2"},
     "y": {"field": "y1", "type": "quantitative", "axis": {"zindex": 1, "orient": "right", "title": null, "labels": false, "domain": false, "offset": -7, "tickSize": 7, "values": [0,5,10,15,20,25]}}, "y2": {"field": "y2"}}},
  {"data": {"name": "model"}, "transform": [{"filter": "datum.p === 'F04' && datum.c === 'fit'"}], "mark": {"type": "line", "color": "black", "strokeWidth": 1.6, "interpolate": "monotone", "clip": true},
   "encoding": {
     "x": {"field": "v", "type": "quantitative", "axis": {"zindex": 1, "orient": "top", "title": null, "labels": false, "domain": false, "offset": -3, "tickSize": 3, "values": [90,91,92,93,94,95,96,97,98,99,100,101,102,103,104,105,106,107,108,109,110,111,112,113,114,115,116,117,118,119,120,121,122,123,124,125,126,127,128,129,130,131,132,133,134,135,136,137,138,139,140,141,142,143,144,145,146,147,148,149,150,151,152,153,154,155,156,157,158,159,160]}},
     "y": {"field": "f", "type": "quantitative", "axis": {"zindex": 1, "orient": "right", "title": null, "labels": false, "domain": false, "offset": -3.5, "tickSize": 3.5, "values": [0,1,2,3,4,5,6,7,8,9,10,11,12,13,14,15,16,17,18,19,20,21,22,23,24,25]}}}},
  {"data": {"name": "steps"}, "transform": [{"filter": "datum.p === 'F04'"}], "mark": {"type": "line", "color": "#ff0000", "strokeWidth": 2, "interpolate": "step-after", "clip": true},
   "encoding": {
     "x": {"field": "v", "type": "quantitative", "axis": {"zindex": 1, "orient": "bottom", "title": "Velocity [km/s]", "ticks": false, "tickSize": 0, "labelPadding": 12, "domain": true, "values": [90,100,110,120,130,140,150,160]}},
     "y": {"field": "f", "type": "quantitative", "axis": {"zindex": 1, "orient": "left", "title": "Flux [mJy]", "ticks": false, "tickSize": 0, "labelPadding": 6, "domain": true, "values": [0,5,10,15,20,25]}}}},
  {"data": {"name": "vl"}, "transform": [{"filter": "datum.p === 'F04'"}], "mark": {"type": "rule", "color": "#0000ff", "clip": true},
   "encoding": {"x": {"field": "v", "type": "quantitative", "axis": null},
     "strokeDash": {"field": "k", "type": "nominal", "scale": {"domain": ["dashed","dashdot","dotted"], "range": [[12,10],[12,4,2,4],[1.5,3.3]]}, "legend": null},
     "strokeWidth": {"field": "k", "type": "ordinal", "scale": {"domain": ["dashed","dashdot","dotted"], "range": [2.8,2,1.6]}, "legend": null}}},
  {"data": {"name": "err"}, "transform": [{"filter": "datum.p === 'F04'"}], "mark": {"type": "rule", "color": "#ff0000", "strokeWidth": 1.6},
   "encoding": {
     "x": {"field": "v", "type": "quantitative", "axis": {"zindex": 1, "orient": "bottom", "title": null, "labels": false, "domain": false, "offset": -7, "tickSize": 7, "values": [90,100,110,120,130,140,150,160]}},
     "y": {"field": "lo", "type": "quantitative", "axis": {"zindex": 1, "orient": "left", "title": null, "labels": false, "domain": false, "offset": -7, "tickSize": 7, "values": [0,5,10,15,20,25]}}, "y2": {"field": "hi"}}},
  {"data": {"name": "err"}, "transform": [{"filter": "datum.p === 'F04'"}], "mark": {"type": "tick", "color": "#ff0000", "orient": "horizontal", "size": 12, "thickness": 1.6},
   "encoding": {
     "x": {"field": "v", "type": "quantitative", "axis": {"zindex": 1, "orient": "top", "title": null, "labels": false, "ticks": false, "domain": true, "values": [90]}},
     "y": {"field": "lo", "type": "quantitative", "axis": {"zindex": 1, "orient": "right", "title": null, "labels": false, "ticks": false, "domain": true, "values": [0]}}}},
  {"data": {"name": "err"}, "transform": [{"filter": "datum.p === 'F04'"}], "mark": {"type": "tick", "color": "#ff0000", "orient": "horizontal", "size": 12, "thickness": 1.6},
   "encoding": {"x": {"field": "v", "type": "quantitative", "axis": null}, "y": {"field": "hi", "type": "quantitative", "axis": null}}}
 ]
},
{
 "title": {"text": "F13: CO J=2−1", "offset": 4},
 "width": 300, "height": 372,
 "resolve": {"axis": {"x": "independent", "y": "independent"}},
 "layer": [
  {"data": {"name": "hatch"}, "mark": {"type": "rule", "color": "#b4b4b4", "strokeWidth": 1, "clip": true},
   "encoding": {"x": {"field": "a", "type": "quantitative", "scale": {"domain": [90,160], "nice": false, "zero": false}, "axis": null}, "x2": {"field": "b"},
     "y": {"datum": -1, "type": "quantitative", "scale": {"domain": [-1,35], "nice": false, "zero": false}, "axis": null}, "y2": {"datum": 35}}},
  {"data": {"name": "mask"}, "transform": [{"filter": "datum.p === 'F13'"}], "mark": {"type": "rect", "fill": "white", "clip": true},
   "encoding": {
     "x": {"field": "x1", "type": "quantitative", "axis": {"zindex": 1, "orient": "bottom", "title": null, "labels": false, "domain": false, "offset": -3, "tickSize": 3, "values": [90,91,92,93,94,95,96,97,98,99,100,101,102,103,104,105,106,107,108,109,110,111,112,113,114,115,116,117,118,119,120,121,122,123,124,125,126,127,128,129,130,131,132,133,134,135,136,137,138,139,140,141,142,143,144,145,146,147,148,149,150,151,152,153,154,155,156,157,158,159,160]}}, "x2": {"field": "x2"},
     "y": {"field": "y1", "type": "quantitative", "axis": {"zindex": 1, "orient": "left", "title": null, "labels": false, "domain": false, "offset": -3.5, "tickSize": 3.5, "values": [0,2,4,6,8,10,12,14,16,18,20,22,24,26,28,30,32,34]}}, "y2": {"field": "y2"}}},
  {"data": {"name": "hreg"}, "transform": [{"filter": "datum.p === 'F13'"}], "mark": {"type": "rect", "fillOpacity": 0, "stroke": "#b4b4b4", "strokeWidth": 1.3, "clip": true},
   "encoding": {
     "x": {"field": "x1", "type": "quantitative", "axis": {"zindex": 1, "orient": "top", "title": null, "labels": false, "domain": false, "offset": -7, "tickSize": 7, "values": [90,100,110,120,130,140,150,160]}}, "x2": {"field": "x2"},
     "y": {"field": "y1", "type": "quantitative", "axis": {"zindex": 1, "orient": "right", "title": null, "labels": false, "domain": false, "offset": -7, "tickSize": 7, "values": [0,10,20,30]}}, "y2": {"field": "y2"}}},
  {"data": {"name": "model"}, "transform": [{"filter": "datum.p === 'F13' && datum.c === 'fit'"}], "mark": {"type": "line", "color": "black", "strokeWidth": 1.6, "interpolate": "monotone", "clip": true},
   "encoding": {
     "x": {"field": "v", "type": "quantitative", "axis": {"zindex": 1, "orient": "top", "title": null, "labels": false, "domain": false, "offset": -3, "tickSize": 3, "values": [90,91,92,93,94,95,96,97,98,99,100,101,102,103,104,105,106,107,108,109,110,111,112,113,114,115,116,117,118,119,120,121,122,123,124,125,126,127,128,129,130,131,132,133,134,135,136,137,138,139,140,141,142,143,144,145,146,147,148,149,150,151,152,153,154,155,156,157,158,159,160]}},
     "y": {"field": "f", "type": "quantitative", "axis": {"zindex": 1, "orient": "right", "title": null, "labels": false, "domain": false, "offset": -3.5, "tickSize": 3.5, "values": [0,2,4,6,8,10,12,14,16,18,20,22,24,26,28,30,32,34]}}}},
  {"data": {"name": "steps"}, "transform": [{"filter": "datum.p === 'F13'"}], "mark": {"type": "line", "color": "#ff0000", "strokeWidth": 2, "interpolate": "step-after", "clip": true},
   "encoding": {
     "x": {"field": "v", "type": "quantitative", "axis": {"zindex": 1, "orient": "bottom", "title": "Velocity [km/s]", "ticks": false, "tickSize": 0, "labelPadding": 12, "domain": true, "values": [90,100,110,120,130,140,150,160]}},
     "y": {"field": "f", "type": "quantitative", "axis": {"zindex": 1, "orient": "left", "title": "Flux [mJy]", "ticks": false, "tickSize": 0, "labelPadding": 6, "domain": true, "values": [0,10,20,30]}}}},
  {"data": {"name": "vl"}, "transform": [{"filter": "datum.p === 'F13'"}], "mark": {"type": "rule", "color": "#0000ff", "clip": true},
   "encoding": {"x": {"field": "v", "type": "quantitative", "axis": null},
     "strokeDash": {"field": "k", "type": "nominal", "scale": {"domain": ["dashed","dashdot","dotted"], "range": [[12,10],[12,4,2,4],[1.5,3.3]]}, "legend": null},
     "strokeWidth": {"field": "k", "type": "ordinal", "scale": {"domain": ["dashed","dashdot","dotted"], "range": [2.8,2,1.6]}, "legend": null}}},
  {"data": {"name": "err"}, "transform": [{"filter": "datum.p === 'F13'"}], "mark": {"type": "rule", "color": "#ff0000", "strokeWidth": 1.6},
   "encoding": {
     "x": {"field": "v", "type": "quantitative", "axis": {"zindex": 1, "orient": "bottom", "title": null, "labels": false, "domain": false, "offset": -7, "tickSize": 7, "values": [90,100,110,120,130,140,150,160]}},
     "y": {"field": "lo", "type": "quantitative", "axis": {"zindex": 1, "orient": "left", "title": null, "labels": false, "domain": false, "offset": -7, "tickSize": 7, "values": [0,10,20,30]}}, "y2": {"field": "hi"}}},
  {"data": {"name": "err"}, "transform": [{"filter": "datum.p === 'F13'"}], "mark": {"type": "tick", "color": "#ff0000", "orient": "horizontal", "size": 12, "thickness": 1.6},
   "encoding": {
     "x": {"field": "v", "type": "quantitative", "axis": {"zindex": 1, "orient": "top", "title": null, "labels": false, "ticks": false, "domain": true, "values": [90]}},
     "y": {"field": "lo", "type": "quantitative", "axis": {"zindex": 1, "orient": "right", "title": null, "labels": false, "ticks": false, "domain": true, "values": [0]}}}},
  {"data": {"name": "err"}, "transform": [{"filter": "datum.p === 'F13'"}], "mark": {"type": "tick", "color": "#ff0000", "orient": "horizontal", "size": 12, "thickness": 1.6},
   "encoding": {"x": {"field": "v", "type": "quantitative", "axis": null}, "y": {"field": "hi", "type": "quantitative", "axis": null}}}
 ]
}
]
}
